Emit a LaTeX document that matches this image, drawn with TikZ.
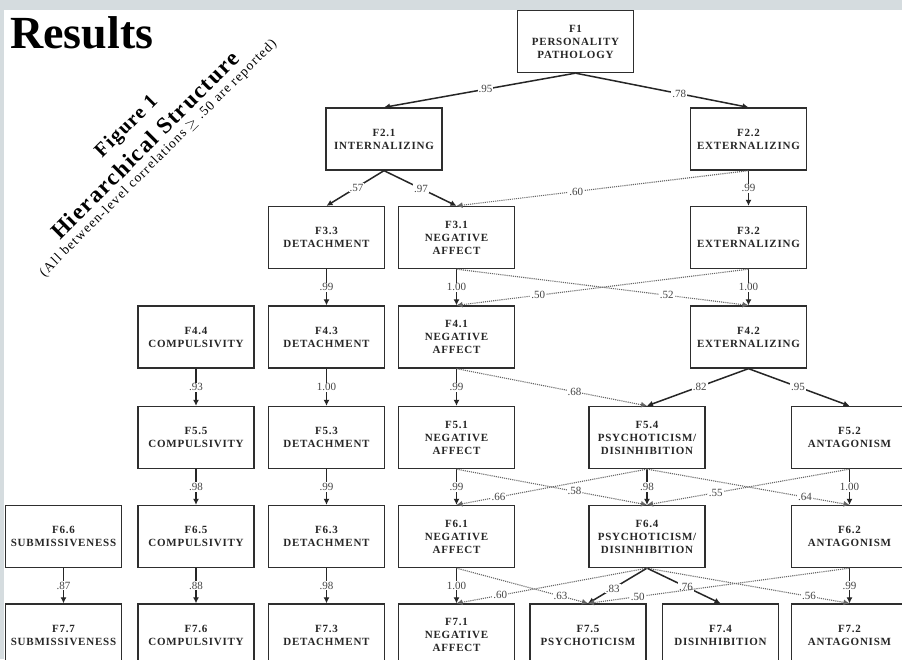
\documentclass[tikz,border=0pt]{standalone}
\usepackage{fontspec}
\setmainfont{Liberation Serif}
\newfontfamily\boxfamily[LetterSpace=7]{Liberation Serif}
\newfontfamily\titlefamily[LetterSpace=7]{Liberation Serif}
\newfontfamily\notefamily[LetterSpace=9]{Liberation Serif}
\usepackage{tikz}
\usetikzlibrary{arrows.meta,positioning}

\definecolor{bandgray}{HTML}{D5DCDF}
\definecolor{boxline}{HTML}{2E2E2E}
\definecolor{labelgray}{HTML}{444444}
\definecolor{dotgray}{HTML}{666666}

\tikzset{
    factor/.style={draw=boxline, fill=white, line width=1.3pt, minimum width=116pt,
        minimum height=62pt, inner sep=0pt, align=center, text=black!85,
        font=\boxfamily\bfseries\fontsize{11}{13}\selectfont},
    load/.style={->, draw=black!85, line width=1.5pt},
    cross/.style={->, draw=dotgray, line width=1.1pt, densely dotted},
    lbl/.style={fill=white, inner sep=1pt, text=labelgray, font=\fontsize{11}{11}\selectfont},
    >={Latex[length=6pt,width=6pt]}
}

\begin{document}
\begin{tikzpicture}[x=1pt, y=-1pt]
    \clip (0,0) rectangle (902,659);
    \fill[white] (0,0) rectangle (902,659);
    \fill[bandgray] (0,0) rectangle (902,10);
    \fill[bandgray] (0,10) rectangle (4,659);

    % title
    \node[anchor=base west, inner sep=0pt, font=\bfseries\fontsize{46}{46}\selectfont] (results) at (10,48) {Results};
    \node[rotate=45, inner sep=0pt, font=\titlefamily\bfseries\fontsize{20}{20}\selectfont] (fig) at (127,127) {Figure 1};
    \node[rotate=45, inner sep=0pt, font=\titlefamily\bfseries\fontsize{23}{23}\selectfont] (hier) at (145,145) {Hierarchical Structure};
    \node[rotate=45, inner sep=0pt, font=\notefamily\fontsize{13.5}{13.5}\selectfont] (note) at (158.5,158.5) {(All between-level correlations $\geq$ .50 are reported)};

    % level 1 and 2
    \node[factor] (f1) at (575.5,41.5) {F1\\PERSONALITY\\PATHOLOGY};
    \node[factor] (f21) at (384,139) {F2.1\\INTERNALIZING};
    \node[factor] (f22) at (748.5,139) {F2.2\\EXTERNALIZING};

    % level 3
    \node[factor] (f33) at (326.5,237.5) {F3.3\\DETACHMENT};
    \node[factor] (f31) at (456.5,237.5) {F3.1\\NEGATIVE\\AFFECT};
    \node[factor] (f32) at (748.5,237.5) {F3.2\\EXTERNALIZING};

    % level 4
    \node[factor] (f44) at (196,337) {F4.4\\COMPULSIVITY};
    \node[factor] (f43) at (326.5,337) {F4.3\\DETACHMENT};
    \node[factor] (f41) at (456.5,337) {F4.1\\NEGATIVE\\AFFECT};
    \node[factor] (f42) at (748.5,337) {F4.2\\EXTERNALIZING};

    % level 5
    \node[factor] (f55) at (196,437.5) {F5.5\\COMPULSIVITY};
    \node[factor] (f53) at (326.5,437.5) {F5.3\\DETACHMENT};
    \node[factor] (f51) at (456.5,437.5) {F5.1\\NEGATIVE\\AFFECT};
    \node[factor] (f54) at (647,437.5) {F5.4\\PSYCHOTICISM/\\DISINHIBITION};
    \node[factor] (f52) at (849.5,437.5) {F5.2\\ANTAGONISM};

    % level 6
    \node[factor] (f66) at (63.5,536.5) {F6.6\\SUBMISSIVENESS};
    \node[factor] (f65) at (196,536.5) {F6.5\\COMPULSIVITY};
    \node[factor] (f63) at (326.5,536.5) {F6.3\\DETACHMENT};
    \node[factor] (f61) at (456.5,536.5) {F6.1\\NEGATIVE\\AFFECT};
    \node[factor] (f64) at (647,536.5) {F6.4\\PSYCHOTICISM/\\DISINHIBITION};
    \node[factor] (f62) at (849.5,536.5) {F6.2\\ANTAGONISM};

    % level 7
    \node[factor] (f77) at (63.5,635) {F7.7\\SUBMISSIVENESS};
    \node[factor] (f76) at (196,635) {F7.6\\COMPULSIVITY};
    \node[factor] (f73) at (326.5,635) {F7.3\\DETACHMENT};
    \node[factor] (f71) at (456.5,635) {F7.1\\NEGATIVE\\AFFECT};
    \node[factor] (f75) at (588,635) {F7.5\\PSYCHOTICISM};
    \node[factor] (f74) at (720.5,635) {F7.4\\DISINHIBITION};
    \node[factor] (f72) at (849.5,635) {F7.2\\ANTAGONISM};

    % straight down links
    \foreach \a/\b/\v in {f22/f32/.99, f33/f43/.99, f31/f41/1.00, f32/f42/1.00,
                          f44/f55/.93, f43/f53/1.00, f41/f51/.99,
                          f55/f65/.98, f53/f63/.99, f51/f61/.99, f54/f64/.98, f52/f62/1.00,
                          f66/f77/.87, f65/f76/.88, f63/f73/.98, f61/f71/1.00, f62/f72/.99}
        \draw[load] (\a.south) -- node[lbl] {\v} (\b.north);

    % slanted links
    \draw[load] (f1.south) -- node[lbl, pos=.47] {.95} (f21.north);
    \draw[load] (f1.south) -- node[lbl, pos=.6] {.78} (f22.north);
    \draw[load] (f21.south) -- node[lbl, pos=.48] {.57} (f33.north);
    \draw[load] (f21.south) -- node[lbl, pos=.51] {.97} (f31.north);
    \draw[load] (f42.south) -- node[lbl, pos=.48] {.82} (f54.north);
    \draw[load] (f42.south) -- node[lbl, pos=.49] {.95} (f52.north);
    \draw[load] (f64.south) -- node[lbl, pos=.58] {.83} (f75.north);
    \draw[load] (f64.south) -- node[lbl, pos=.53] {.76} (f74.north);

    % dotted cross links
    \draw[cross] (f22.south) -- node[lbl, pos=.59] {.60} (f31.north);
    \draw[cross] (f31.south) -- node[lbl, pos=.72] {.52} (f42.north);
    \draw[cross] (f32.south) -- node[lbl, pos=.72] {.50} (f41.north);
    \draw[cross] (f41.south) -- node[lbl, pos=.62] {.68} (f54.north);
    \draw[cross] (f51.south) -- node[lbl, pos=.62] {.58} (f64.north);
    \draw[cross] (f54.south) -- node[lbl, pos=.78] {.66} (f61.north);
    \draw[cross] (f54.south) -- node[lbl, pos=.78] {.64} (f62.north);
    \draw[cross] (f52.south) -- node[lbl, pos=.66] {.55} (f64.north);
    \draw[cross] (f61.south) -- node[lbl, pos=.79] {.63} (f75.north);
    \draw[cross] (f64.south) -- node[lbl, pos=.77] {.60} (f71.north);
    \draw[cross] (f62.south) -- node[lbl, pos=.81] {.50} (f75.north);
    \draw[cross] (f64.south) -- node[lbl, pos=.8] {.56} (f72.north);
\end{tikzpicture}
\end{document}
